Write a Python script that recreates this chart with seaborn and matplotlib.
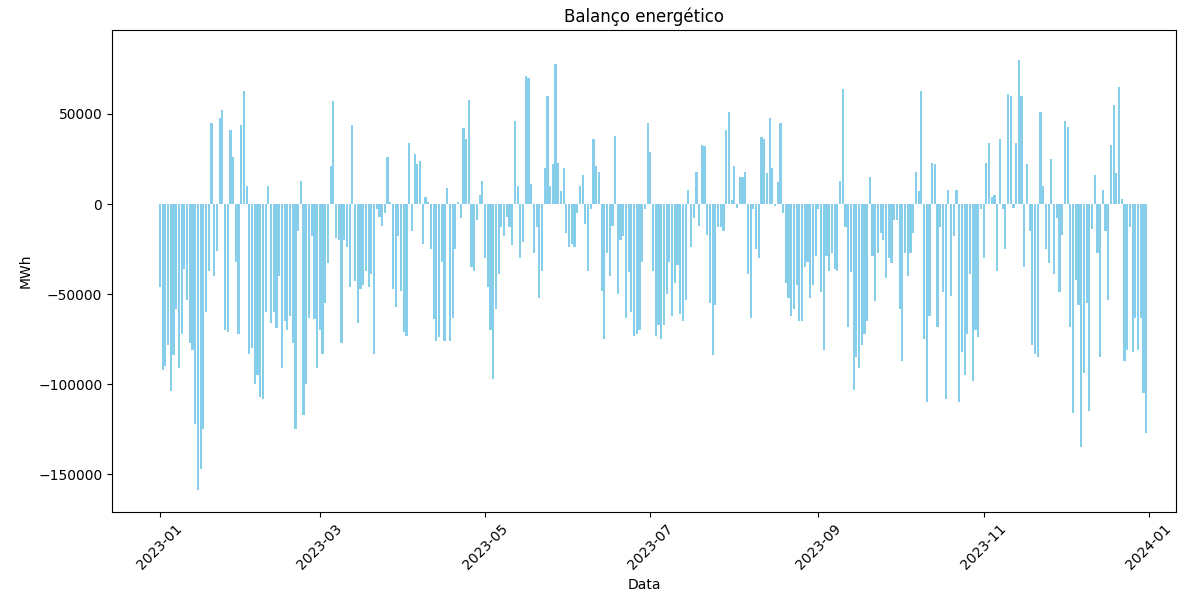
import numpy as np
import pandas as pd
import matplotlib
matplotlib.use("Agg")
import matplotlib.pyplot as plt
import matplotlib.dates as mdates
import seaborn as sns

# Daily energy balance, thousands of MWh, per month of 2023
jan = [-46, -92, -90, -78, -104, -84, -58, -91, -72, -36, -53, -77, -81, -122, -159, -147,
       -125, -60, -37, 45, -40, -26, 48, 52, -70, -71, 41, 26, -32, -72, 44]
feb = [63, 10, -83, -80, -100, -95, -107, -108, -60, 10, -66, -60, -69, -40, -91, -65,
       -70, -62, -77, -125, -15, 13, -117, -100, -63, -18, -64, -91]
mar = [-70, -83, -55, -33, 21, 57, -19, -20, -77, -20, -24, -46, 44, -43, -66, -47,
       -45, -37, -46, -39, -83, -3, -7, -12, -5, 26, 1, -47, -57, -18, -48]
apr = [-71, -73, 34, -15, 28, 22, 24, -22, 4, 1, -25, -64, -76, -74, -32, -76,
       9, -76, -63, -25, 1, -8, 42, 36, 58, -35, -37, -9, 5, 13]
may = [-30, -46, -70, -97, -58, -39, -13, -18, -7, -13, -23, 46, 10, -30, -21, 71,
       70, 11, -27, -13, -52, -37, 20, 60, 10, 22, 78, 23, 7, 20, -16]
jun = [-24, -22, -24, -5, 10, 16, -11, -37, -3, 36, 21, 18, -48, -75, -27, -40,
       -12, 38, -50, -20, -18, -63, -38, -60, -73, -72, -70, -32, -3, 45]
jul = [29, -37, -73, -67, -75, -67, -50, -32, -62, -44, -34, -61, -65, -53, 8, -24,
       -8, 18, -12, 33, 32, -17, -55, -84, -56, -13, -13, -15, 41, 51, 2]
aug = [21, -2, 15, 15, 18, -39, -63, -3, -25, -30, 37, 36, 17, 48, 20, -1,
       12, 45, -5, -44, -52, -62, -58, -45, -65, -65, -35, -32, -52, -45, -29]
sep = [-3, -49, -81, -29, -37, -27, -36, -37, 13, 64, -13, -68, -38, -103, -85, -91,
       -78, -72, -65, 15, -29, -54, -27, -16, -20, -41, -30, -33, -9, -9]
oct_ = [-58, -87, -27, -40, -27, -16, 18, 7, 63, -75, -110, -62, 23, 22, -68, -13,
        -49, -108, 8, -51, -18, 8, -110, -82, -95, -72, -39, -98, -70, -74, -3]
nov = [-30, 23, 34, 4, 5, -37, 36, -3, -25, 61, 60, -2, 34, 80, 60, -35,
       22, -15, -78, -83, -85, 51, 10, -25, -33, 25, -39, -8, -49, -17]
dec = [46, 43, -68, -116, -42, -56, -135, -94, -55, -115, -14, 16, -27, -85, 8, -15,
       -53, 33, 55, 17, 65, 3, -87, -81, -13, -82, -63, -81, -63, -105, -127]

months = [jan, feb, mar, apr, may, jun, jul, aug, sep, oct_, nov, dec]
values = np.concatenate([np.array(m, dtype=float) for m in months]) * 1000
dates = pd.date_range("2023-01-01", periods=len(values), freq="D")

df = pd.DataFrame({"Data": mdates.date2num(dates.to_pydatetime()), "MWh": values})

fig = plt.figure(figsize=(11.88, 5.92), dpi=100)
ax = fig.add_axes([0.0943, 0.135, 0.8956, 0.814])

sns.barplot(data=df, x="Data", y="MWh", native_scale=True, color="skyblue",
            saturation=1, errorbar=None, ax=ax, linewidth=0)

start = mdates.date2num(pd.Timestamp("2023-01-01").to_pydatetime())
ax.set_xlim(start - 17.7, start + 375)
ax.set_ylim(-171000, 96500)
ax.xaxis.set_major_locator(mdates.MonthLocator(bymonth=[1, 3, 5, 7, 9, 11]))
ax.xaxis.set_major_formatter(mdates.DateFormatter("%Y-%m"))
plt.setp(ax.get_xticklabels(), rotation=45)

ax.set_title("Balanço energético")
ax.set_xlabel("Data")
ax.set_ylabel("MWh")

fig.savefig("out.png", dpi=100)
